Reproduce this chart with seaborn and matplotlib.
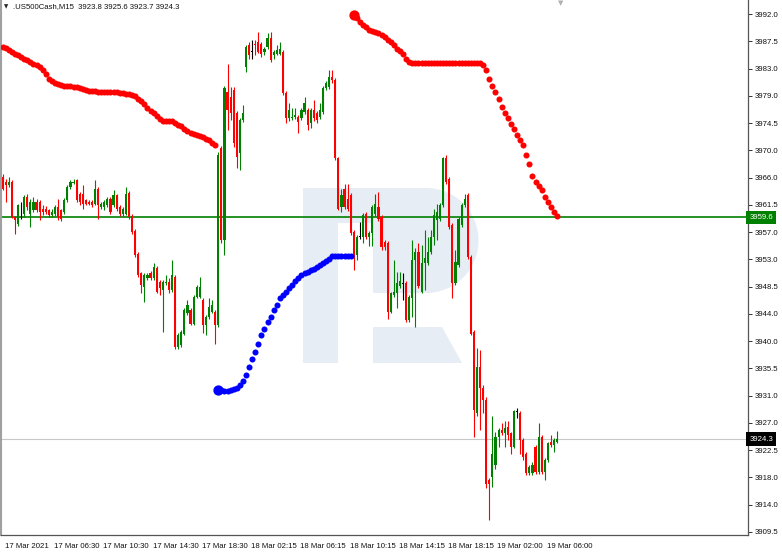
import numpy as np
import pandas as pd
import matplotlib
matplotlib.use("Agg")
import matplotlib.pyplot as plt
import matplotlib.transforms as mtransforms
from matplotlib.patches import Polygon, Rectangle, Wedge
import seaborn as sns

# --- chart data ---
symbol_title = ".US500Cash,M15  3923.8 3925.6 3923.7 3924.3"

time_labels = ["17 Mar 2021", "17 Mar 06:30", "17 Mar 10:30", "17 Mar 14:30",
               "17 Mar 18:30", "18 Mar 02:15", "18 Mar 06:15", "18 Mar 10:15",
               "18 Mar 14:15", "18 Mar 18:15", "19 Mar 02:00", "19 Mar 06:00"]

price_labels = ["3992.0", "3987.5", "3983.0", "3979.0", "3974.5", "3970.0",
                "3966.0", "3961.5", "3957.0", "3953.0", "3948.5", "3944.0",
                "3940.0", "3935.5", "3931.0", "3927.0", "3922.5", "3918.0",
                "3914.0", "3909.5"]

bar_open = [
    3966.1, 3965.3, 3964.7, 3965.3, 3959.7, 3958.6, 3961.5, 3960.2, 3962.9, 3960.2,
    3960.8, 3962.1, 3962.1, 3961.0, 3961.0, 3960.8, 3960.0, 3960.2, 3961.3, 3960.8,
    3960.5, 3962.3, 3964.5, 3965.1, 3965.5, 3963.4, 3963.4, 3962.3, 3962.1, 3962.1,
    3961.8, 3964.2, 3961.3, 3961.3, 3961.5, 3962.6, 3961.5, 3963.1, 3961.3, 3960.2,
    3960.2, 3963.5, 3959.9, 3957.5, 3953.8, 3950.7, 3948.5, 3949.9, 3950.7, 3949.9,
    3951.5, 3949.3, 3948.0, 3949.1, 3949.3, 3948.0, 3950.1, 3939.0, 3939.3, 3941.1,
    3944.3, 3944.8, 3942.7, 3947.0, 3947.0, 3946.4, 3942.4, 3943.8, 3944.6, 3944.6,
    3942.4, 3970.7, 3956.0, 3979.6, 3978.8, 3979.9, 3976.2, 3969.8, 3975.1, 3983.6,
    3987.1, 3986.0, 3987.3, 3987.6, 3987.3, 3986.0, 3986.8, 3988.1, 3985.5, 3985.7,
    3985.7, 3986.0, 3979.4, 3975.4, 3975.4, 3975.6, 3975.6, 3975.4, 3976.4, 3976.7,
    3974.6, 3976.7, 3976.2, 3975.6, 3976.4, 3980.2, 3980.4, 3982.0, 3981.5, 3969.0,
    3961.3, 3964.2, 3962.6, 3963.2, 3957.3, 3953.6, 3956.5, 3956.5, 3960.2, 3956.5,
    3957.1, 3960.2, 3961.3, 3959.7, 3955.7, 3955.5, 3944.6, 3947.2, 3947.5, 3948.6,
    3949.0, 3949.1, 3943.3, 3946.7, 3952.8, 3954.1, 3947.8, 3952.3, 3952.3, 3954.1,
    3956.5, 3959.2, 3959.4, 3961.6, 3969.0, 3965.8, 3958.4, 3949.1, 3952.0, 3958.4,
    3961.6, 3963.2, 3953.3, 3941.4, 3928.4, 3935.8, 3932.4, 3930.5, 3917.8, 3918.3,
    3920.2, 3924.7, 3925.7, 3925.2, 3926.3, 3925.2, 3923.1, 3928.6, 3928.4, 3924.2,
    3922.0, 3918.9, 3918.9, 3923.1, 3919.1, 3924.7, 3919.1, 3921.0, 3923.9, 3923.4,
    3923.8]

bar_high = [
    3966.5, 3965.8, 3966.1, 3965.5, 3959.9, 3961.8, 3962.1, 3963.2, 3963.3, 3962.6,
    3962.9, 3962.6, 3962.4, 3961.5, 3961.4, 3961.0, 3960.9, 3961.6, 3962.6, 3961.0,
    3962.7, 3964.7, 3965.6, 3965.8, 3965.8, 3963.7, 3964.7, 3962.6, 3962.4, 3962.3,
    3965.5, 3964.5, 3962.1, 3962.4, 3962.9, 3962.9, 3963.9, 3963.4, 3961.5, 3961.3,
    3964.5, 3963.8, 3960.1, 3957.7, 3954.1, 3950.9, 3950.7, 3950.7, 3951.0, 3952.3,
    3951.8, 3949.6, 3949.6, 3950.4, 3949.9, 3952.8, 3950.4, 3941.2, 3941.7, 3945.1,
    3946.4, 3945.1, 3947.3, 3948.8, 3950.1, 3946.7, 3944.0, 3946.7, 3946.4, 3944.8,
    3970.0, 3971.0, 3980.5, 3984.1, 3980.4, 3980.4, 3976.5, 3975.4, 3977.5, 3987.1,
    3987.6, 3987.9, 3987.8, 3989.2, 3987.6, 3986.8, 3988.9, 3989.2, 3986.3, 3987.1,
    3987.6, 3986.3, 3979.7, 3977.8, 3977.0, 3977.0, 3975.9, 3977.0, 3978.8, 3977.0,
    3977.0, 3978.3, 3976.5, 3977.8, 3980.5, 3981.3, 3983.1, 3983.1, 3981.8, 3969.3,
    3964.2, 3965.0, 3965.0, 3963.5, 3957.6, 3956.8, 3958.9, 3960.3, 3960.5, 3957.4,
    3961.6, 3963.4, 3963.7, 3960.0, 3956.0, 3955.8, 3947.8, 3952.8, 3950.9, 3950.9,
    3950.7, 3949.4, 3947.3, 3956.0, 3954.7, 3955.5, 3955.2, 3957.6, 3956.5, 3957.6,
    3961.0, 3961.8, 3961.9, 3969.3, 3969.5, 3966.1, 3958.7, 3954.4, 3959.7, 3961.9,
    3963.4, 3963.5, 3953.6, 3941.6, 3938.8, 3938.5, 3932.9, 3931.0, 3918.1, 3927.9,
    3925.5, 3926.0, 3926.8, 3927.1, 3927.1, 3925.5, 3929.0, 3929.2, 3928.7, 3924.5,
    3922.3, 3920.2, 3920.6, 3923.4, 3926.8, 3925.0, 3921.3, 3923.9, 3925.0, 3924.5,
    3925.6]

bar_low = [
    3964.0, 3962.1, 3964.5, 3959.5, 3957.0, 3958.3, 3959.4, 3959.6, 3960.8, 3958.1,
    3960.5, 3960.4, 3959.2, 3960.0, 3960.1, 3959.6, 3959.6, 3959.8, 3959.2, 3959.1,
    3960.2, 3962.0, 3964.2, 3964.9, 3962.0, 3961.6, 3961.0, 3961.5, 3961.5, 3961.2,
    3961.5, 3959.4, 3961.0, 3960.8, 3961.2, 3960.2, 3961.2, 3960.6, 3959.9, 3959.9,
    3960.0, 3959.4, 3957.0, 3953.3, 3950.1, 3947.5, 3946.2, 3949.6, 3949.6, 3949.6,
    3947.5, 3947.2, 3941.4, 3948.8, 3947.5, 3947.7, 3938.6, 3938.7, 3939.0, 3940.8,
    3944.0, 3942.4, 3942.4, 3946.7, 3946.7, 3941.2, 3940.8, 3943.5, 3944.3, 3939.5,
    3942.1, 3955.5, 3953.6, 3973.5, 3975.1, 3970.8, 3967.5, 3967.1, 3974.8, 3982.8,
    3984.9, 3984.9, 3985.5, 3985.8, 3985.2, 3985.5, 3986.5, 3984.4, 3984.9, 3985.4,
    3985.4, 3979.1, 3974.6, 3975.0, 3975.1, 3975.3, 3973.0, 3975.1, 3976.0, 3973.5,
    3973.8, 3975.0, 3974.6, 3975.3, 3976.0, 3979.9, 3980.0, 3981.0, 3968.7, 3960.8,
    3960.5, 3961.0, 3960.7, 3956.8, 3951.2, 3952.8, 3956.2, 3955.5, 3956.2, 3955.0,
    3955.0, 3959.9, 3959.1, 3954.4, 3954.4, 3943.5, 3944.3, 3946.9, 3945.1, 3948.3,
    3946.4, 3943.0, 3943.0, 3943.8, 3942.2, 3948.3, 3947.5, 3948.0, 3952.0, 3953.8,
    3955.2, 3956.0, 3959.1, 3961.3, 3965.0, 3957.8, 3946.7, 3948.8, 3951.7, 3958.1,
    3961.3, 3953.0, 3940.8, 3924.7, 3928.0, 3925.7, 3928.5, 3916.5, 3911.4, 3916.7,
    3919.5, 3923.1, 3924.9, 3923.1, 3924.2, 3922.0, 3922.8, 3927.6, 3922.0, 3921.0,
    3918.6, 3918.6, 3918.6, 3918.8, 3918.8, 3918.8, 3917.8, 3920.7, 3923.1, 3922.3,
    3923.7]

bar_close = [
    3964.2, 3964.7, 3965.3, 3959.7, 3959.2, 3961.5, 3961.5, 3962.9, 3961.2, 3962.1,
    3962.1, 3960.8, 3960.5, 3960.5, 3960.5, 3960.0, 3960.5, 3961.3, 3959.7, 3959.4,
    3962.3, 3964.5, 3965.3, 3965.3, 3962.3, 3962.1, 3961.8, 3961.8, 3961.8, 3961.5,
    3964.2, 3961.5, 3961.8, 3962.1, 3962.6, 3960.5, 3963.1, 3961.0, 3960.2, 3961.0,
    3963.4, 3959.7, 3957.3, 3953.6, 3950.4, 3948.8, 3950.4, 3950.4, 3949.9, 3951.7,
    3947.8, 3948.3, 3949.3, 3949.3, 3948.0, 3950.4, 3939.0, 3940.9, 3941.4, 3944.8,
    3945.6, 3942.7, 3947.0, 3948.5, 3948.5, 3942.4, 3943.8, 3945.4, 3945.6, 3942.4,
    3969.5, 3956.0, 3980.2, 3976.7, 3976.2, 3971.4, 3969.3, 3975.1, 3976.2, 3986.8,
    3985.5, 3986.0, 3987.0, 3986.0, 3985.7, 3986.5, 3988.1, 3984.7, 3986.0, 3986.3,
    3986.5, 3979.4, 3975.4, 3976.7, 3975.6, 3975.9, 3974.8, 3976.7, 3977.8, 3974.3,
    3976.7, 3975.4, 3975.1, 3976.7, 3980.2, 3981.0, 3982.0, 3981.5, 3969.0, 3961.0,
    3963.2, 3961.3, 3961.0, 3957.1, 3953.6, 3956.5, 3956.5, 3960.0, 3956.5, 3957.1,
    3961.3, 3961.8, 3959.4, 3954.9, 3954.9, 3944.6, 3947.5, 3947.8, 3949.1, 3949.4,
    3949.0, 3943.3, 3947.0, 3952.8, 3954.1, 3948.6, 3952.3, 3953.1, 3954.1, 3956.5,
    3960.0, 3960.5, 3961.6, 3969.0, 3965.3, 3958.1, 3949.1, 3952.5, 3959.4, 3961.6,
    3962.6, 3953.3, 3941.1, 3928.9, 3935.8, 3932.4, 3930.5, 3917.2, 3917.2, 3922.0,
    3924.7, 3925.7, 3925.2, 3926.0, 3925.0, 3923.1, 3928.7, 3928.6, 3924.2, 3921.5,
    3918.9, 3919.9, 3920.2, 3919.1, 3924.7, 3919.1, 3921.0, 3923.6, 3923.4, 3924.2,
    3924.3]

# indicator dots: first bar index of each run, then one value per bar
red_early_start = 0
red_early = [
    3986.7, 3986.6, 3986.3, 3985.9, 3985.6, 3985.4, 3985.1, 3984.9, 3984.6, 3984.4,
    3984.1, 3983.9, 3983.6, 3983.1, 3982.4, 3981.7, 3981.3, 3981.0, 3980.8, 3980.7,
    3980.6, 3980.6, 3980.5, 3980.4, 3980.3, 3980.2, 3980.1, 3979.9, 3979.8, 3979.7,
    3979.7, 3979.6, 3979.6, 3979.6, 3979.6, 3979.6, 3979.5, 3979.5, 3979.4, 3979.4,
    3979.3, 3979.2, 3979.1, 3978.9, 3978.5, 3978.1, 3977.6, 3977.1, 3976.6, 3976.2,
    3975.7, 3975.3, 3975.0, 3975.0, 3974.9, 3974.9, 3974.7, 3974.4, 3974.1, 3973.7,
    3973.3, 3973.1, 3972.9, 3972.7, 3972.5, 3972.4, 3972.1, 3971.9, 3971.5, 3971.2]

blue_start = 70
blue_dots = [
    3932.1, 3932.1, 3932.0, 3932.0, 3932.1, 3932.2, 3932.4, 3932.9, 3933.5, 3934.5,
    3935.7, 3937.0, 3938.2, 3939.5, 3940.8, 3941.8, 3942.9, 3943.8, 3944.9, 3945.7,
    3946.7, 3947.2, 3947.7, 3948.3, 3948.9, 3949.4, 3949.9, 3950.4, 3950.7, 3950.9,
    3951.2, 3951.4, 3951.7, 3952.0, 3952.3, 3952.7, 3953.0, 3953.4, 3953.5, 3953.5,
    3953.5, 3953.5, 3953.5, 3953.5]

red_late_start = 114
red_late = [
    3991.8, 3991.3, 3990.8, 3990.3, 3989.9, 3989.5, 3989.3, 3989.1, 3988.9, 3988.7,
    3988.3, 3987.9, 3987.5, 3987.0, 3986.5, 3986.1, 3985.6, 3984.9, 3984.3, 3984.2,
    3984.2, 3984.2, 3984.2, 3984.2, 3984.2, 3984.2, 3984.2, 3984.2, 3984.2, 3984.2,
    3984.2, 3984.2, 3984.2, 3984.2, 3984.2, 3984.2, 3984.2, 3984.2, 3984.2, 3984.2,
    3984.2, 3984.2, 3983.8, 3983.1, 3981.7, 3980.6, 3979.6, 3978.5, 3977.2, 3976.3,
    3975.4, 3974.5, 3973.7, 3972.8, 3972.0, 3971.2, 3969.5, 3968.1, 3966.2, 3965.3,
    3964.6, 3963.9, 3962.8, 3962.0, 3961.3, 3960.4, 3959.8]

level_price = 3959.6
last_price = 3924.3

# --- figure ---
W, H = 782, 552
sns.set_style("white")
plt.rcParams['font.family'] = ['Liberation Sans', 'DejaVu Sans']

df = pd.DataFrame({'open': bar_open, 'high': bar_high, 'low': bar_low, 'close': bar_close})
df['bar'] = np.arange(len(df))
df['color'] = np.where(df.close > df.open, '#008000',
                       np.where(df.close < df.open, '#ff0000', '#000000'))

fig = plt.figure(figsize=(W / 100, H / 100), dpi=100)
ax = fig.add_axes([1 / W, 17 / H, 747 / W, 535 / H])
ax.set_xlim(-0.55, 241.98)
ax.set_ylim(3909.02, 3994.23)

# watermark logo, in pixel coords measured from the top-left
pix = mtransforms.Affine2D().scale(1 / W, -1 / H).translate(0, 1) + fig.transFigure
logo = '#e7edf5'
ax.add_patch(Polygon([(303, 188), (426, 188), (426, 223), (338, 223), (338, 363), (303, 363)],
                     closed=True, fc=logo, ec='none', transform=pix, zorder=0))
ax.add_patch(Rectangle((373, 222), 54, 71, fc=logo, ec='none', transform=pix, zorder=0))
ax.add_patch(Wedge((426, 240.5), 52.5, -90, 90, fc=logo, ec='none', transform=pix, zorder=0))
ax.add_patch(Polygon([(373, 327), (442, 327), (462, 363), (373, 363)],
                     closed=True, fc=logo, ec='none', transform=pix, zorder=0))

ax.axhline(level_price, color='#008000', lw=1.2, zorder=1)
ax.axhline(last_price, color='#c8c8c8', lw=0.8, zorder=1)

# candles
ax.vlines(df.bar, df.low, df.high, colors=df.color, lw=0.8, zorder=2)
ax.bar(df.bar, np.maximum((df.close - df.open).abs(), 0.15),
       bottom=np.minimum(df.open, df.close), width=0.7, color=df.color,
       linewidth=0, zorder=2)

# indicator dots
runs = [(red_early_start, red_early, 'red', False),
        (blue_start, blue_dots, 'blue', True),
        (red_late_start, red_late, 'red', True)]
for start, vals, col, head in runs:
    xs = np.arange(start, start + len(vals))
    sns.scatterplot(x=xs, y=vals, color=col, s=19, linewidth=0, ax=ax,
                    legend=False, zorder=3)
    if head:
        ax.scatter([xs[0]], [vals[0]], color=col, s=55, linewidth=0, zorder=3)

# axes styling
ax.yaxis.tick_right()
ax.set_yticks(np.linspace(3992.0, 3909.5, len(price_labels)))
ax.set_yticklabels(price_labels)
ax.set_xticks(np.arange(0, 16 * len(time_labels), 16))
ax.set_xticklabels(time_labels)
ax.tick_params(axis='y', length=3, width=0.7, pad=2, labelsize=5.6,
               colors='#333333', labelcolor='#111111')
ax.tick_params(axis='x', length=4, width=0.7, pad=1.5, labelsize=5.6,
               colors='#333333', labelcolor='#111111')
shift = mtransforms.ScaledTranslation(2 / 100, 0, fig.dpi_scale_trans)
for lbl in ax.get_xticklabels():
    lbl.set_horizontalalignment('left')
    lbl.set_transform(lbl.get_transform() + shift)
ax.spines['top'].set_visible(False)
ax.spines['left'].set_color('#a0a0a0')
ax.spines['left'].set_linewidth(1.5)
for side in ('right', 'bottom'):
    ax.spines[side].set_color('#555555')
    ax.spines[side].set_linewidth(0.9)
ax.set_xlabel('')
ax.set_ylabel('')

# price boxes on the scale
box_tf = mtransforms.blended_transform_factory(ax.transAxes, ax.transData)
ax.text(1.002, level_price, f"{level_price:.1f}", transform=box_tf, ha='left', va='center',
        color='white', fontsize=5.6, clip_on=False, zorder=5,
        bbox=dict(boxstyle='square,pad=0.4', fc='#008000', ec='none'))
ax.text(1.002, last_price, f"{last_price:.1f}", transform=box_tf, ha='left', va='center',
        color='white', fontsize=5.6, clip_on=False, zorder=5,
        bbox=dict(boxstyle='square,pad=0.4', fc='#000000', ec='none'))

# header
fig.text(6 / W, 1 - 7 / H, '\u25bc', fontsize=4, ha='center', va='center', family='DejaVu Sans')
fig.text(13 / W, 1 - 7 / H, symbol_title, fontsize=5.6, ha='left', va='center', color='#111111')
fig.text(561 / W, 1.0, '\u25bc', fontsize=5, ha='center', va='top', color='#b0b0b0',
         family='DejaVu Sans')

fig.savefig('out.png', dpi=100)
